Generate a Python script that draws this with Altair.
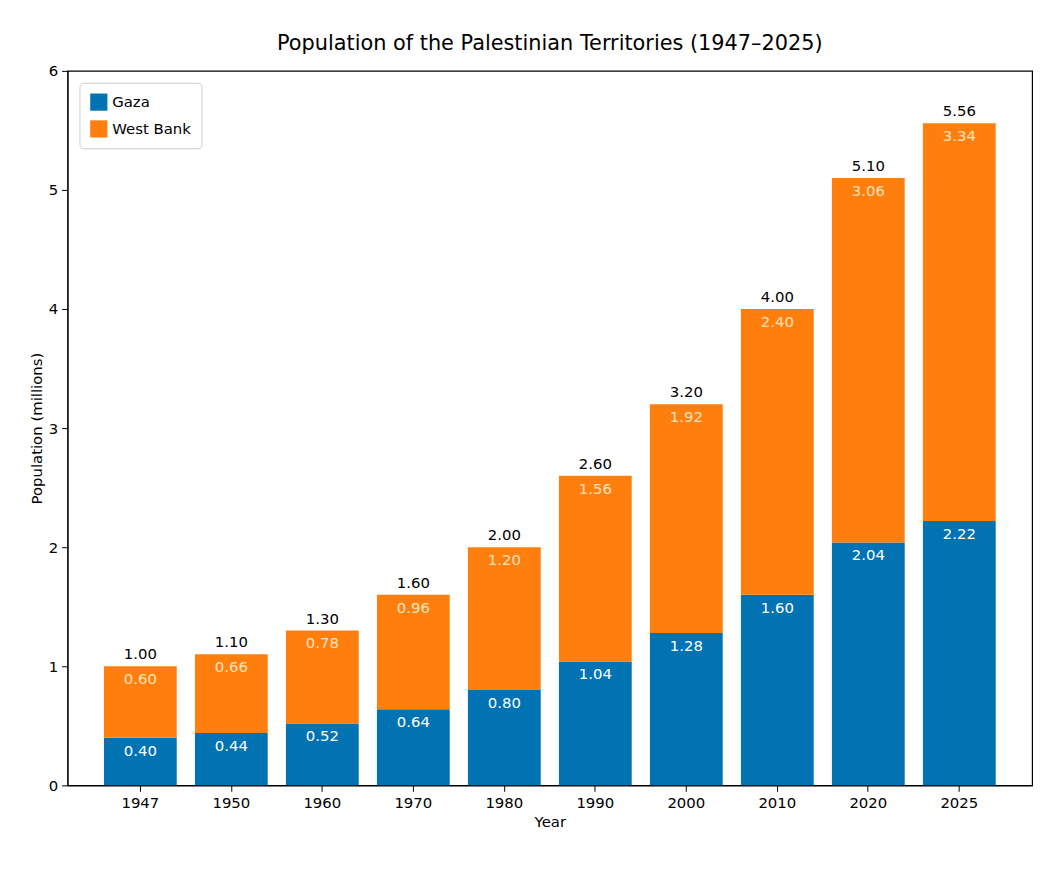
import altair as alt
import pandas as pd

years = ["1947","1950","1960","1970","1980","1990","2000","2010","2020","2025"]
gaza = [0.40,0.44,0.52,0.64,0.80,1.04,1.28,1.60,2.04,2.22]
west = [0.60,0.66,0.78,0.96,1.20,1.56,1.92,2.40,3.06,3.34]

rows = []
for y,g,w in zip(years,gaza,west):
    rows.append(dict(Year=y, Region="Gaza", val=g, y0=0, y1=g, lab=f"{g:.2f}"))
    rows.append(dict(Year=y, Region="West Bank", val=w, y0=g, y1=g+w, lab=f"{w:.2f}"))
df = pd.DataFrame(rows)
tot = pd.DataFrame(dict(Year=years, total=[g+w for g,w in zip(gaza,west)],
                        lab=[f"{g+w:.2f}" for g,w in zip(gaza,west)]))

F = "DejaVu Sans"
xenc = alt.X("Year:N", sort=years, title="Year",
             scale=alt.Scale(paddingInner=0.2, paddingOuter=0.4),
             axis=alt.Axis(labelAngle=0))
col = alt.Color("Region:N", scale=alt.Scale(domain=["Gaza","West Bank"], range=["#0173b2","#ff7f0e"]),
                legend=alt.Legend(title=None, orient="none", legendX=12, legendY=12,
                                  symbolType="square", symbolSize=300, labelFontSize=15,
                                  labelFont=F, fillColor="white", strokeColor="#cccccc",
                                  padding=10, rowPadding=8, cornerRadius=4))

bars = alt.Chart(df).mark_bar().encode(
    x=xenc,
    y=alt.Y("y1:Q", title="Population (millions)", scale=alt.Scale(domain=[0,6]),
            axis=alt.Axis(values=[0,1,2,3,4,5,6], grid=False, format="d")),
    y2="y0:Q", color=col)

lab_g = alt.Chart(df[df.Region=="Gaza"]).mark_text(baseline="top", dy=6, fontSize=15, font=F, color="white").encode(
    x=alt.X("Year:N", sort=years), y="y1:Q", text="lab:N")
lab_w = alt.Chart(df[df.Region=="West Bank"]).mark_text(baseline="top", dy=6, fontSize=15, font=F, color="#ffe3bd").encode(
    x=alt.X("Year:N", sort=years), y="y1:Q", text="lab:N")
lab_t = alt.Chart(tot).mark_text(baseline="bottom", dy=-4, fontSize=15, font=F, color="black").encode(
    x=alt.X("Year:N", sort=years), y="total:Q", text="lab:N")

chart = alt.layer(bars, lab_g, lab_w, lab_t).properties(
    width=972, height=720,
    title=alt.Title("Population of the Palestinian Territories (1947–2025)", fontSize=21, font=F,
                    fontWeight="normal", color="black", offset=10),
    autosize=alt.AutoSizeParams(type="none"),
    padding={"left": 60, "top": 60, "right": 14, "bottom": 90},
).configure(background="white").configure_view(stroke="black", strokeWidth=1.2).configure_axis(
    labelFont=F, titleFont=F, labelFontSize=15, titleFontSize=15, titleFontWeight="normal",
    labelColor="black", titleColor="black", domainColor="black", tickColor="black",
    tickSize=6, labelPadding=4, grid=False
)

chart.save("out.html", embed_options={"renderer": "svg", "actions": False})
